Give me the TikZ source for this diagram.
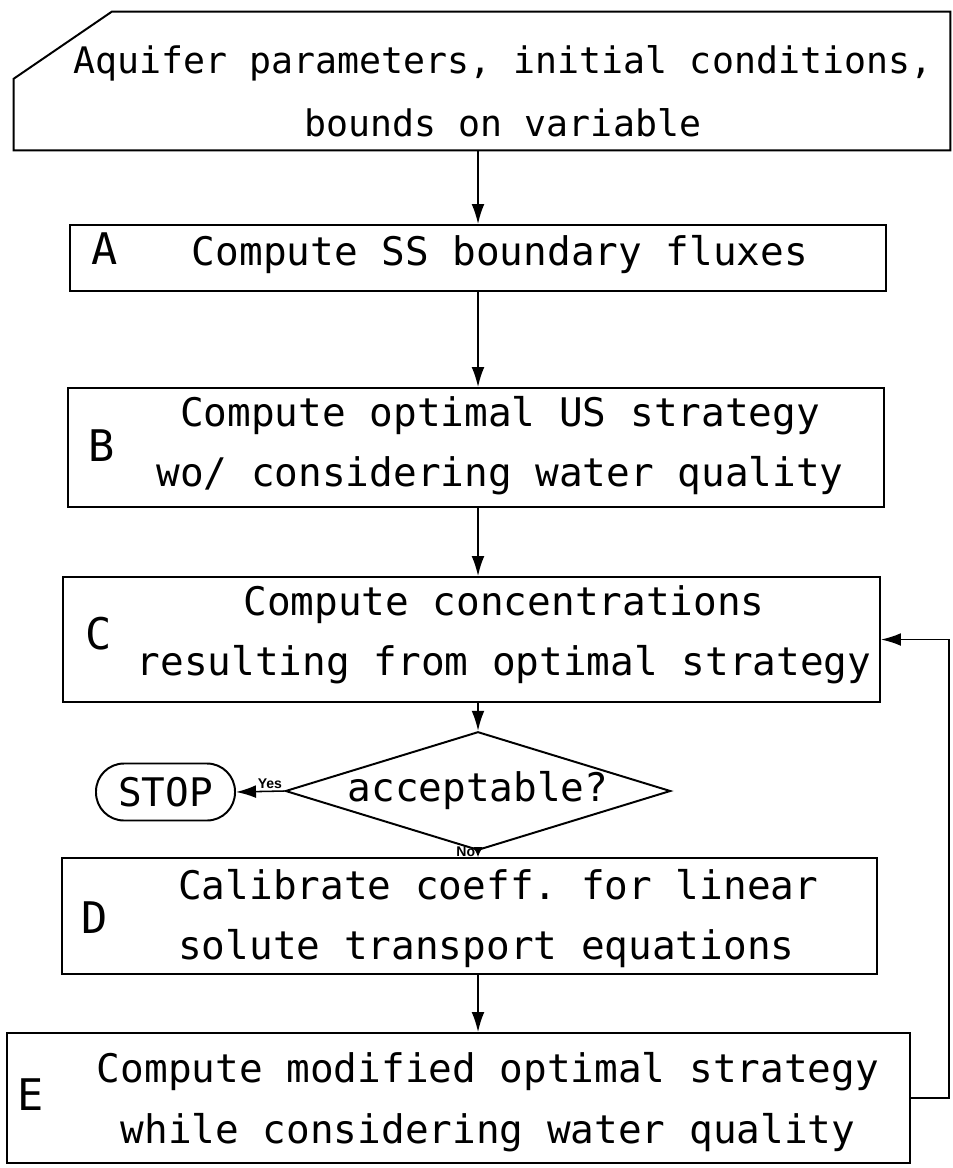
\documentclass[tikz,border=0pt]{standalone}
\usepackage{fontspec}
\setmonofont{DejaVu Sans Mono}
\newfontfamily\tagfont{Liberation Sans}
\usetikzlibrary{shapes.geometric, arrows.meta}
\tikzstyle{inbox} = [rectangle, inner sep=0pt, minimum width=23.4cm, minimum height=3.45cm]
\tikzstyle{stepbox} = [rectangle, draw, line width=1.4pt, inner sep=0pt]
\tikzstyle{steptext} = [font=\ttfamily\fontsize{28}{43}\selectfont, align=center, inner sep=0pt]
\tikzstyle{letter} = [font=\ttfamily\fontsize{31}{31}\selectfont, inner sep=0pt]
\tikzstyle{decision} = [diamond, draw, line width=1.4pt, aspect=3.25, inner sep=0pt, minimum width=9.575cm, minimum height=2.95cm, font=\ttfamily\fontsize{28}{34}\selectfont]
\tikzstyle{startstop} = [rectangle, rounded corners=0.7cm, draw, line width=1.4pt, minimum width=3.475cm, minimum height=1.425cm, inner sep=0pt, font=\ttfamily\fontsize{28}{34}\selectfont]
\tikzstyle{answer} = [font=\tagfont\bfseries\fontsize{10}{12}\selectfont, inner sep=1.5pt]
\tikzset{arrow/.style={line width=1.1pt, -{Latex[length=0.5cm, width=0.32cm]}},
         short/.style={line width=1.1pt, -{Latex[length=0.25cm, width=0.25cm]}}}

\begin{document}
\begin{tikzpicture}
    \useasboundingbox (0,0) rectangle (23.8,-29.2);
    \coordinate (spine) at (11.95,0);

    \node [inbox] at (12.05,-2.025) (input) {};
    \draw [line width=1.4pt] ([yshift=-1.675cm]input.north west) -- ([xshift=2.45cm]input.north west) -- (input.north east) -- (input.south east) -- (input.south west) -- cycle;
    \node [steptext, font=\ttfamily\fontsize{26}{45}\selectfont] at (12.575,-2.2875) (inputtext) {Aquifer parameters, initial conditions,\\bounds on variable};

    \node [stepbox, minimum width=20.4cm, minimum height=1.65cm] at (11.95,-6.45) (A) {};
    \node [letter] at (2.625,-6.2125) (labA) {A};
    \node [steptext] at (12.5,-6.375) (textA) {Compute SS boundary fluxes};

    \node [stepbox, minimum width=20.4cm, minimum height=2.975cm] at (11.9,-11.1875) (B) {};
    \node [letter] at (2.5375,-11.15) (labB) {B};
    \node [steptext] at (12.5,-11.1375) (textB) {Compute optimal US strategy\\wo/ considering water quality};

    \node [stepbox, minimum width=20.425cm, minimum height=3.125cm] at (11.7875,-15.9875) (C) {};
    \node [letter] at (2.4625,-15.8375) (labC) {C};
    \node [steptext] at (12.6,-15.8625) (textC) {Compute concentrations\\resulting from optimal strategy};

    \node [decision] at (11.95,-19.775) (dec) {acceptable?};
    \node [startstop] at (4.1375,-19.8) (stop) {STOP};

    \node [stepbox, minimum width=20.375cm, minimum height=2.9cm] at (11.7375,-22.9) (D) {};
    \node [letter] at (2.3625,-22.95) (labD) {D};
    \node [steptext, align=left, anchor=west] at (4.45,-22.9625) (textD) {Calibrate coeff. for linear\\solute transport equations};

    \node [stepbox, minimum width=22.575cm, minimum height=3.25cm] at (11.4625,-27.45) (E) {};
    \node [letter] at (0.7625,-27.375) (labE) {E};
    \node [steptext] at (12.2,-27.55) (textE) {Compute modified optimal strategy\\while considering water quality};

    \coordinate (loop) at (23.725,-27.45);

    \draw [arrow] (input.south -| spine) -- (A.north -| spine);
    \draw [arrow] (A.south -| spine) -- (B.north -| spine);
    \draw [arrow] (B.south -| spine) -- (C.north -| spine);
    \draw [arrow] (C.south -| spine) -- (dec.north);
    \draw [arrow] (dec.west) -- node [answer, pos=0.3, above] (yes) {Yes} (stop.east);
    \draw [short] (dec.south) -- node [answer, at start, left] (no) {No} (D.north -| spine);
    \draw [arrow] (D.south -| spine) -- (E.north -| spine);
    \draw [arrow] (E.east) -- (loop) |- (C.east);
\end{tikzpicture}
\end{document}
